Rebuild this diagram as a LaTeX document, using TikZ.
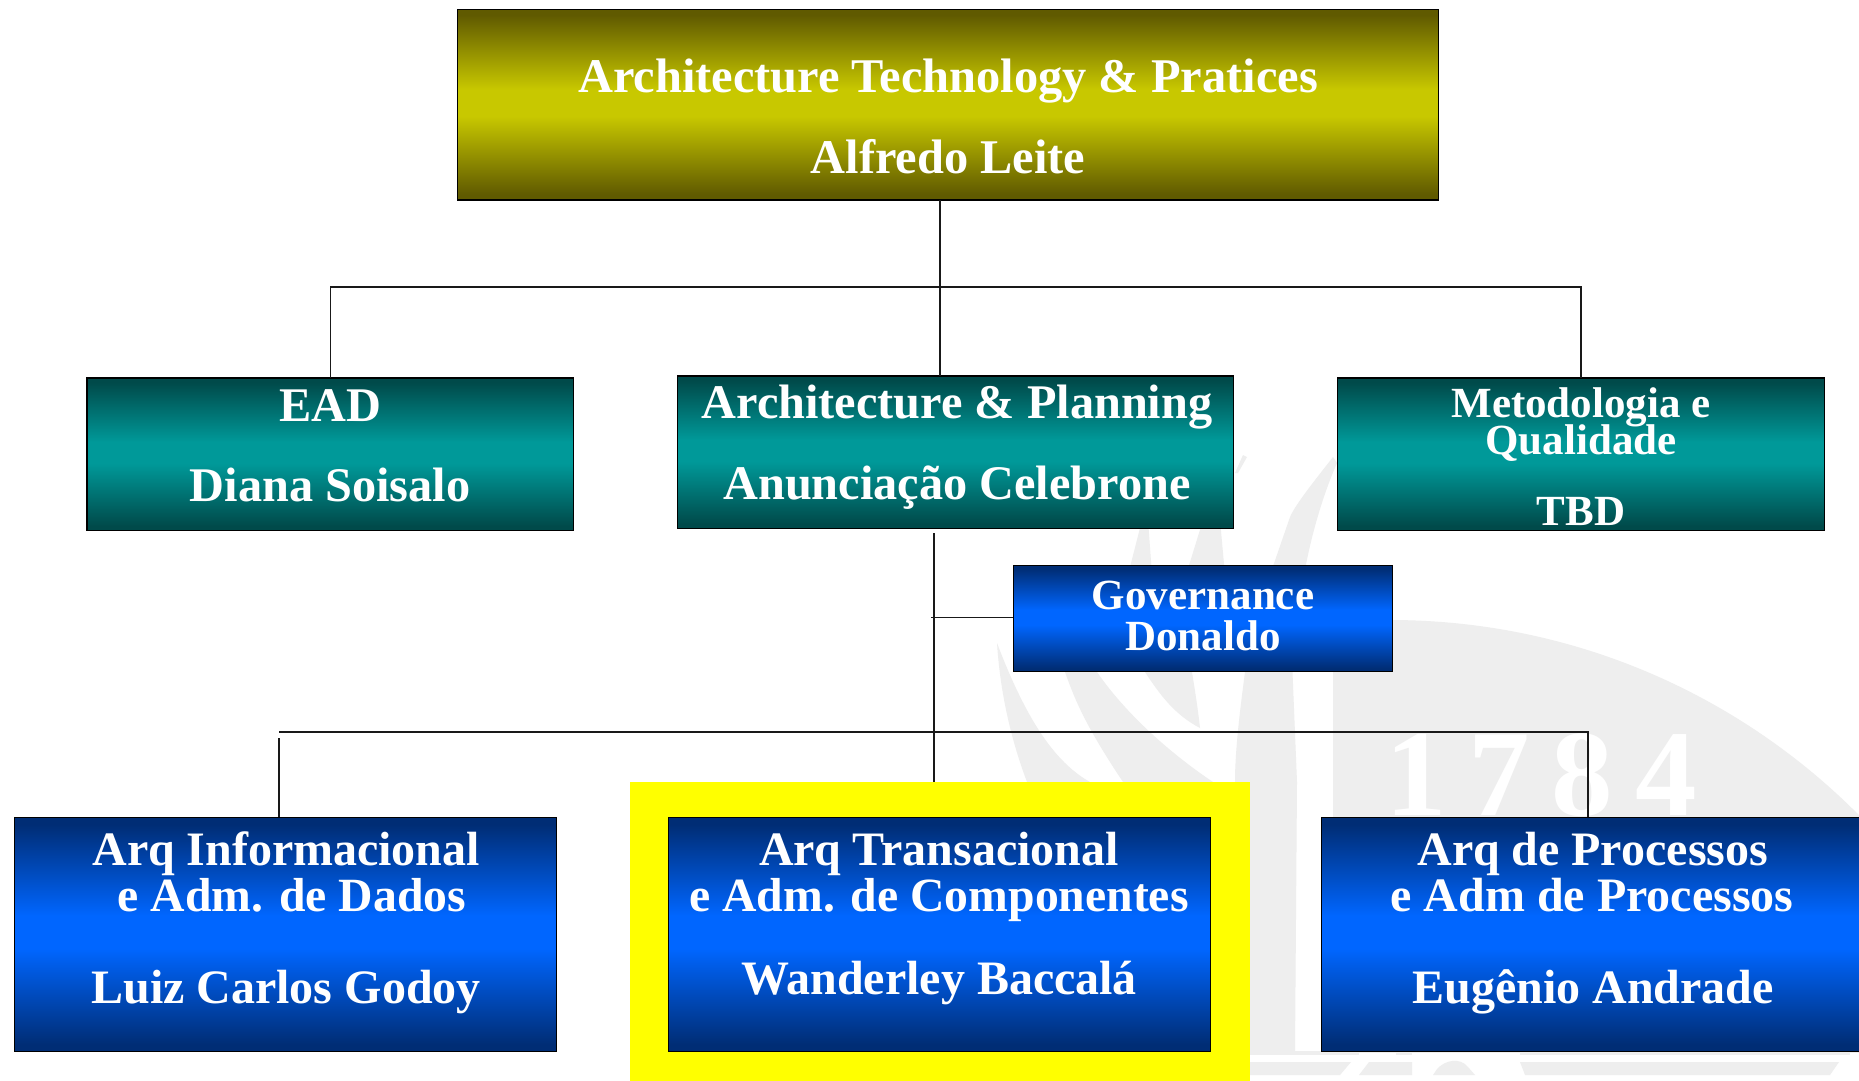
\documentclass[tikz,border=0pt]{standalone}
\usepackage{fontspec}
\setmainfont{Liberation Serif}
\definecolor{wm}{HTML}{EEEEEE}
\definecolor{olivedark}{HTML}{605A00}
\definecolor{olivemid}{HTML}{C8C800}
\definecolor{tealdark}{HTML}{004A4A}
\definecolor{tealmid}{HTML}{009999}
\definecolor{bluedark}{HTML}{002D75}
\definecolor{bluemid}{HTML}{0066FF}
\definecolor{hlyellow}{HTML}{FFFF00}
\pgfdeclareverticalshading{olivesh}{100bp}{color(0bp)=(olivedark); color(26.5bp)=(olivedark); color(47bp)=(olivemid); color(54bp)=(olivemid); color(73.5bp)=(olivedark); color(100bp)=(olivedark)}
\pgfdeclareverticalshading{tealsh}{100bp}{color(0bp)=(tealdark); color(26.5bp)=(tealdark); color(47bp)=(tealmid); color(54bp)=(tealmid); color(73.5bp)=(tealdark); color(100bp)=(tealdark)}
\pgfdeclareverticalshading{bluesh}{100bp}{color(0bp)=(bluedark); color(26.5bp)=(bluedark); color(47bp)=(bluemid); color(54bp)=(bluemid); color(73.5bp)=(bluedark); color(100bp)=(bluedark)}
\tikzset{
  boxbase/.style={draw=black,line width=1.6pt,rectangle,inner sep=0pt,outer sep=0pt},
  olivebox/.style={boxbase,shading=olivesh},
  tealbox/.style={boxbase,shading=tealsh},
  bluebox/.style={boxbase,shading=bluesh},
  conn/.style={draw=black!90,line width=1.4pt},
  lab/.style={anchor=base,text=white,inner sep=0pt,font=\fontsize{#1}{#1}\selectfont\bfseries},
  lab/.default=48,
  wmfill/.style={fill=wm,draw=none}
}
\newcommand{\boxat}[6]{\node[#1,minimum width=#4 pt-#2 pt-0.8pt,minimum height=#5 pt-#3 pt-0.8pt] (#6) at ({(#2+#4)/2},{(#3+#5)/2}) {};}
\begin{document}
\begin{tikzpicture}[x=1pt,y=-1pt]
\useasboundingbox (0,0) rectangle (1859,1080);
\fill[white] (0,0) rectangle (1859,1080);
% watermark
\begin{scope}
\clip (1333,600) rectangle (1865,1052);
\fill[wm] (1390,1281) circle (661);
\end{scope}
\fill[wmfill] (997,643) .. controls (1000,690) and (1010,737) .. (1027,782) -- (1090,782) .. controls (1060,765) and (1030,730) .. (997,643) -- cycle;
\fill[wmfill] (1050,640) -- (1065,672) .. controls (1075,700) and (1085,725) .. (1123,782) -- (1213,782) .. controls (1180,760) and (1130,720) .. (1097,672) -- (1075,640) -- cycle;
\fill[wmfill] (1130,650) -- (1145,672) .. controls (1160,695) and (1175,715) .. (1200,728) .. controls (1198,710) and (1195,690) .. (1190,660) -- cycle;
\fill[wmfill] (1248,660) -- (1245,672) .. controls (1240,710) and (1235,750) .. (1235,782) -- (1235,1052) -- (1295,1052) -- (1297,782) -- (1292,660) -- cycle;
\fill[wmfill] (1148,520) -- (1152,575) -- (1128,575) -- (1142,520) -- cycle;
\fill[wmfill] (1203,520) -- (1186,575) -- (1225,575) -- (1220,520) -- cycle;
\fill[wmfill] (1243,455) -- (1247,457) -- (1238,473) -- (1235,473) -- cycle;
\fill[wmfill] (1333,457) .. controls (1315,480) and (1295,505) .. (1290,517) -- (1270,575) -- (1304,575) .. controls (1312,530) and (1325,490) .. (1337,463) -- cycle;
\fill[wmfill] (1250,1051) rectangle (1359,1055);
\fill[wmfill] (1396,1051) rectangle (1412,1055);
\fill[wmfill] (1520,1051) rectangle (1850,1055);
\fill[wmfill] (1250,1062) -- (1351,1062) -- (1340,1075) -- (1250,1075) -- cycle;
\fill[wmfill] (1369,1062) -- (1412,1062) -- (1412,1075) -- (1359,1075) -- cycle;
\fill[wmfill] (1433,1075) -- (1437,1069) .. controls (1445,1060) and (1460,1057) .. (1468,1067) -- (1475,1075) -- cycle;
\fill[wmfill] (1520,1062) -- (1839,1062) -- (1830,1075) -- (1525,1075) -- cycle;
\node[anchor=base,text=white,inner sep=0pt,font=\fontsize{123}{123}\selectfont\bfseries] (year) at (1541,815) {1\hspace{22pt}7\hspace{22pt}8\hspace{22pt}4};
% highlight and boxes
\boxat{olivebox}{457}{9}{1439}{200.5}{top}
\boxat{tealbox}{86.5}{377.5}{574}{531}{ead}
\boxat{tealbox}{677}{375.5}{1234}{529}{ap}
\boxat{tealbox}{1337}{377.5}{1825}{531}{mq}
\boxat{bluebox}{1013}{565}{1393}{672}{gov}
\node[fill=hlyellow,draw=none,inner sep=0pt,outer sep=0pt,minimum width=620pt,minimum height=302pt] (hl) at (940,933) {};
\boxat{bluebox}{14}{817}{557}{1052}{info}
\boxat{bluebox}{668}{817}{1211}{1052}{trans}
\boxat{bluebox}{1321}{817}{1868}{1052}{proc}
% connector joints
\coordinate (j1) at (940,287);
\coordinate (s3) at (934,533);
\coordinate (j3) at (934,732);
\coordinate (g0) at (931,617.7);
\coordinate (l0) at (279,732);
\coordinate (l1) at (279,738);
\coordinate (r1) at (1588,732);
\draw[conn] (top.south -| j1) -- (ap.north -| j1);
\draw[conn] (ead.north) |- (j1) -| (mq.north);
\draw[conn] (s3) -- (hl.north -| s3);
\draw[conn] (g0) -- (g0 -| gov.west);
\draw[conn] (l0) -- (r1) -- (proc.north -| r1);
\draw[conn] (l1) -- (info.north -| l1);
% texts
\node[lab=48.4] (t1) at (948,92) {Architecture Technology \& Pratices};
\node[lab=48.4] (t2) at (948,173) {Alfredo Leite};
\node[lab=48.3] (t3) at (330,421) {EAD};
\node[lab=48.3] (t4) at (330,501.5) {Diana Soisalo};
\node[lab=48.3] (t5) at (957,418.5) {Architecture \& Planning};
\node[lab=48.3] (t6) at (957,499) {Anunciação Celebrone};
\node[lab=43] (t7) at (1581,417) {Metodologia e};
\node[lab=43] (t8) at (1581,454) {Qualidade};
\node[lab=43] (t9) at (1581,525) {TBD};
\node[lab=43] (t10) at (1203,609) {Governance};
\node[lab=43] (t11) at (1203,650) {Donaldo};
\node[lab=48] (t12) at (286.5,865.5) {Arq Informacional};
\node[lab=47.7] (t13) at (292,911.5) {e Adm. de Dados};
\node[lab=48] (t14) at (286,1003.5) {Luiz Carlos Godoy};
\node[lab=48] (t15) at (939,865.5) {Arq Transacional};
\node[lab=47.7] (t16) at (939,911.5) {e Adm. de Componentes};
\node[lab=48] (t17) at (939,994) {Wanderley Baccalá};
\node[lab=48] (t18) at (1593,865.5) {Arq de Processos};
\node[lab=48] (t19) at (1592,911.5) {e Adm de Processos};
\node[lab=48] (t20) at (1593,1003.5) {Eugênio Andrade};
\end{tikzpicture}
\end{document}
